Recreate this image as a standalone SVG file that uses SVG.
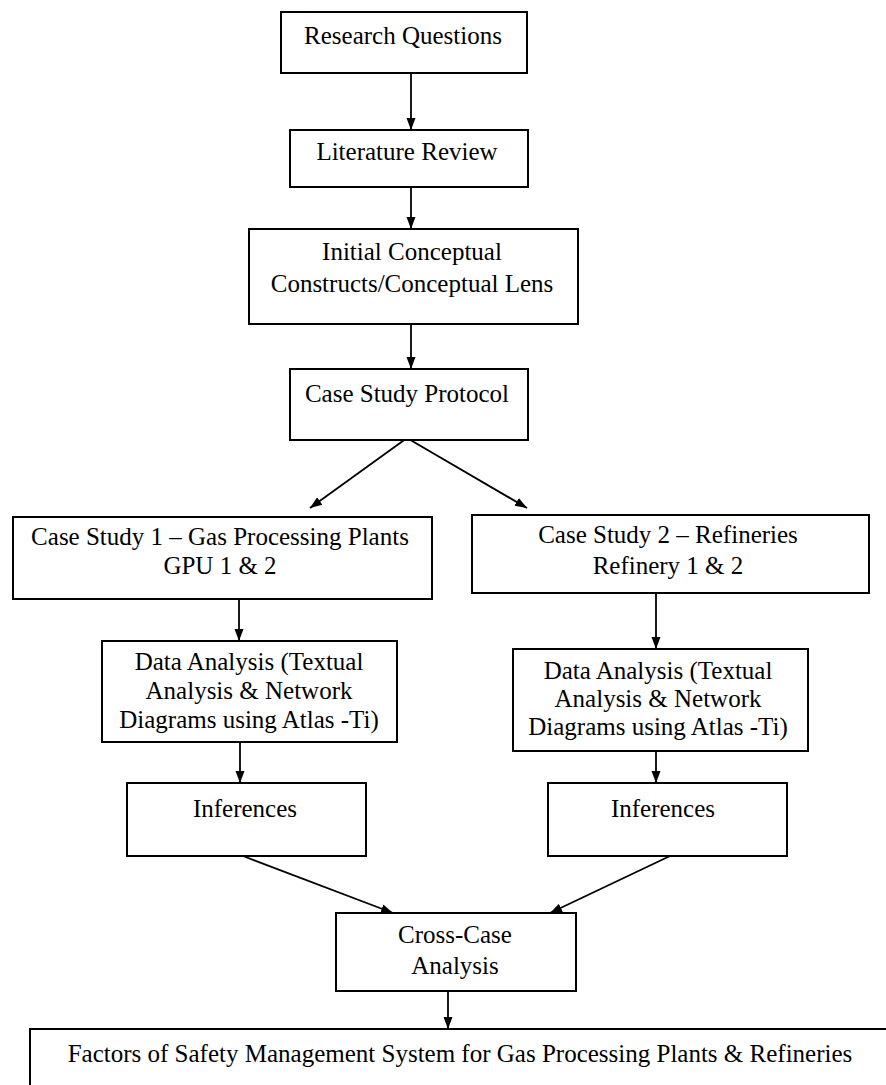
<svg xmlns="http://www.w3.org/2000/svg" width="886" height="1085" viewBox="0 0 886 1085">
  <style>
    .box { fill: #ffffff; stroke: #000000; stroke-width: 2; }
    .lbl { font-family: "Liberation Serif", "Times New Roman", serif; font-size: 25px; fill: #000000; text-anchor: middle; }
    .link { fill: none; stroke: #000000; stroke-width: 1.8; marker-end: url(#arrow); }
  </style>
  <defs>
    <marker id="arrow" markerUnits="userSpaceOnUse" markerWidth="12" markerHeight="12" viewBox="0 0 12 12" refX="12" refY="6" orient="auto">
      <path d="M0,1.5 L12,6 L0,10.5 Z" fill="#000000"/>
    </marker>
  </defs>
  <rect width="886" height="1085" fill="#ffffff"/>

  <!-- connectors -->
  <g id="connectors">
    <line class="link" x1="411" y1="73" x2="411" y2="130"/>
    <line class="link" x1="411" y1="187" x2="411" y2="229"/>
    <line class="link" x1="411" y1="324" x2="411" y2="369"/>
    <line class="link" x1="407" y1="438" x2="310" y2="508"/>
    <line class="link" x1="407" y1="438" x2="527" y2="508"/>
    <line class="link" x1="239" y1="599" x2="239" y2="641"/>
    <line class="link" x1="656" y1="593" x2="656" y2="649"/>
    <line class="link" x1="240" y1="742" x2="240" y2="783"/>
    <line class="link" x1="656" y1="751" x2="656" y2="783"/>
    <line class="link" x1="243" y1="856" x2="393" y2="913"/>
    <line class="link" x1="670" y1="856" x2="550" y2="913"/>
    <line class="link" x1="448" y1="991" x2="448" y2="1029"/>
  </g>

  <g id="research-questions">
    <rect class="box" x="281" y="12" width="246" height="61"/>
    <text class="lbl" x="403" y="44">Research Questions</text>
  </g>

  <g id="literature-review">
    <rect class="box" x="290" y="130" width="238" height="57"/>
    <text class="lbl" x="407" y="160">Literature Review</text>
  </g>

  <g id="initial-constructs">
    <rect class="box" x="249" y="229" width="329" height="95"/>
    <text class="lbl" x="412" y="260">Initial Conceptual</text>
    <text class="lbl" x="412" y="292">Constructs/Conceptual Lens</text>
  </g>

  <g id="case-study-protocol">
    <rect class="box" x="290" y="369" width="238" height="71"/>
    <text class="lbl" x="407" y="402">Case Study Protocol</text>
  </g>

  <g id="case-study-1">
    <rect class="box" x="13" y="517" width="419" height="82"/>
    <text class="lbl" x="220" y="545">Case Study 1 – Gas Processing Plants</text>
    <text class="lbl" x="220" y="574">GPU 1 &amp; 2</text>
  </g>

  <g id="case-study-2">
    <rect class="box" x="472" y="515" width="397" height="78"/>
    <text class="lbl" x="668" y="543">Case Study 2 – Refineries</text>
    <text class="lbl" x="668" y="574">Refinery 1 &amp; 2</text>
  </g>

  <g id="data-analysis-1">
    <rect class="box" x="102" y="641" width="295" height="101"/>
    <text class="lbl" x="249" y="670">Data Analysis (Textual</text>
    <text class="lbl" x="249" y="699">Analysis &amp; Network</text>
    <text class="lbl" x="249" y="728">Diagrams using Atlas -Ti)</text>
  </g>

  <g id="data-analysis-2">
    <rect class="box" x="513" y="649" width="295" height="102"/>
    <text class="lbl" x="658" y="679">Data Analysis (Textual</text>
    <text class="lbl" x="658" y="707">Analysis &amp; Network</text>
    <text class="lbl" x="658" y="735">Diagrams using Atlas -Ti)</text>
  </g>

  <g id="inferences-1">
    <rect class="box" x="127" y="783" width="239" height="73"/>
    <text class="lbl" x="245" y="817">Inferences</text>
  </g>

  <g id="inferences-2">
    <rect class="box" x="548" y="783" width="239" height="73"/>
    <text class="lbl" x="663" y="817">Inferences</text>
  </g>

  <g id="cross-case-analysis">
    <rect class="box" x="336" y="913" width="240" height="78"/>
    <text class="lbl" x="455" y="943">Cross-Case</text>
    <text class="lbl" x="455" y="974">Analysis</text>
  </g>

  <g id="sms-factors">
    <rect class="box" x="30" y="1029" width="880" height="80"/>
    <text class="lbl" x="460" y="1062">Factors of Safety Management System for Gas Processing Plants &amp; Refineries</text>
  </g>
</svg>
